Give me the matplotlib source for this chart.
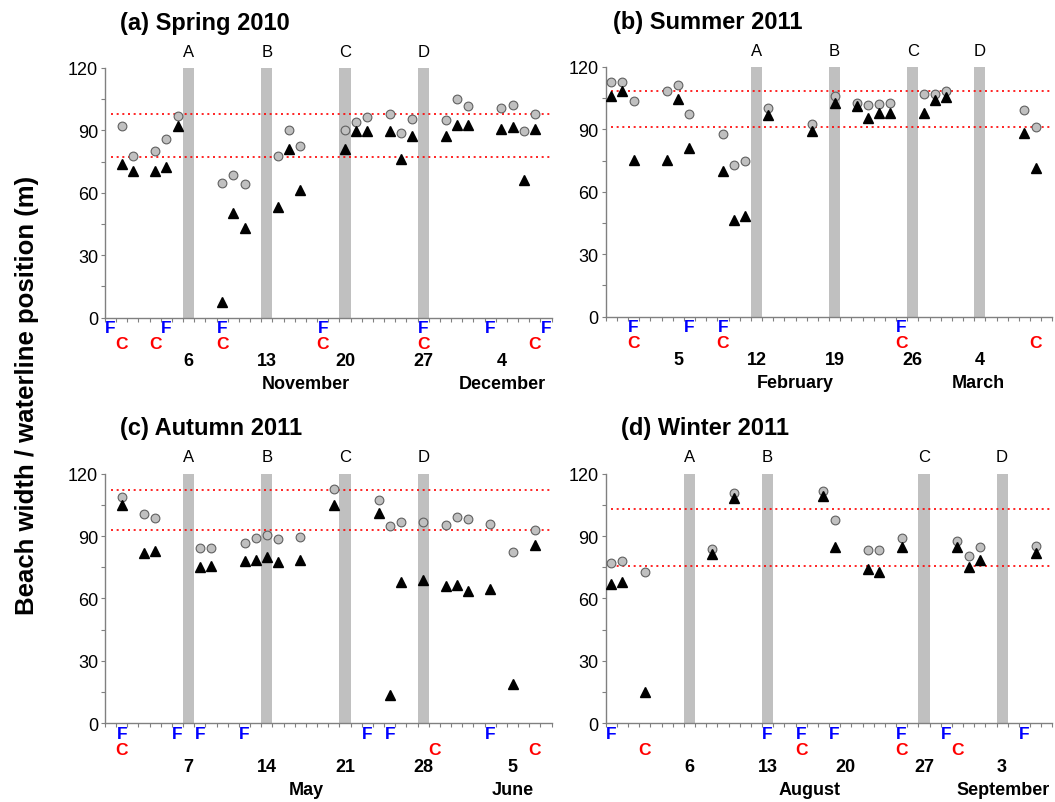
import matplotlib
matplotlib.use("Agg")
import matplotlib.pyplot as plt

plt.rcParams['font.family'] = ['Liberation Sans', 'DejaVu Sans']

##! Survey data.  Days are counted from the first day shown on each panel,
##! so day k is the bin [k, k+1] and its marks sit at k + 0.5.

titles = ['(a) Spring 2010', '(b) Summer 2011', '(c) Autumn 2011', '(d) Winter 2011']
titleShift = [11, 5, 11, 11]
barNames = ['A', 'B', 'C', 'D']

#-- (a) Spring 2010, day 0 = 30 October
daysA  = [1, 2, 4, 5, 6, 10, 11, 12, 15, 16, 17, 21, 22, 23, 25, 26, 27,
          30, 31, 32, 35, 36, 37, 38]
beachA = [92.1, 77.9, 80.3, 85.9, 97.0, 64.9, 68.6, 64.1, 77.9, 90.1, 82.4,
          90.1, 94.2, 96.6, 98.1, 88.6, 95.5, 94.9, 105.1, 101.8, 100.8,
          102.1, 89.9, 97.9]
waterA = [73.7, 70.4, 70.4, 72.3, 92.3, 7.7, 50.5, 43.1, 53.2, 80.9, 61.2,
          80.9, 89.6, 89.6, 89.6, 76.3, 87.2, 87.2, 92.5, 92.5, 90.7, 91.8,
          66.0, 90.7]
limitsA = [98.1, 77.4]
barsA   = [7, 14, 21, 28]
fDaysA  = [0, 5, 10, 19, 28, 34, 39]
cDaysA  = [1, 4, 10, 19, 28, 38]
dateDaysA = [7, 14, 21, 28, 35]
dateLabA  = ['6', '13', '20', '27', '4']
monthsA   = ['November', 'December']
monthPosA = [18.0, 35.6]

#-- (b) Summer 2011, day 0 = 30 January
daysB  = [0, 1, 2, 5, 6, 7, 10, 11, 12, 14, 18, 20, 22, 23, 24, 25, 28, 29,
          30, 37, 38]
beachB = [112.8, 112.8, 103.5, 108.5, 111.5, 97.5, 87.8, 73.0, 74.6, 100.3,
          92.4, 105.9, 102.8, 101.6, 102.2, 102.7, 107.0, 107.0, 108.3, 99.3,
          91.1]
waterB = [105.9, 108.3, 75.4, 75.4, 104.4, 81.2, 69.8, 46.4, 48.6, 97.1,
          89.4, 102.8, 101.1, 95.6, 97.9, 97.9, 97.9, 104.3, 105.4, 88.4, 71.6]
limitsB = [108.5, 91.3]
barsB   = [13, 20, 27, 33]
fDaysB  = [2, 7, 10, 26]
cDaysB  = [2, 10, 26, 38]
dateDaysB = [6, 13, 20, 27, 33]
dateLabB  = ['5', '12', '19', '26', '4']
monthsB   = ['February', 'March']
monthPosB = [17.0, 33.4]

#-- (c) Autumn 2011, day 0 = 30 April
daysC  = [1, 3, 4, 8, 9, 12, 13, 14, 15, 17, 20, 24, 25, 26, 28, 30, 31, 32,
          34, 36, 38]
beachC = [108.6, 100.8, 98.6, 84.0, 84.0, 86.7, 89.0, 90.4, 88.6, 89.6,
          112.5, 107.4, 94.7, 96.6, 96.5, 95.4, 98.9, 98.4, 96.0, 82.2, 93.0]
waterC = [105.0, 81.6, 82.7, 75.0, 75.7, 77.8, 78.6, 79.7, 77.4, 78.6,
          105.1, 101.1, 13.6, 68.0, 68.8, 65.8, 66.4, 63.8, 64.5, 18.7, 85.9]
limitsC = [112.0, 93.0]
barsC   = [7, 14, 21, 28]
fDaysC  = [1, 6, 8, 12, 23, 25, 34]
cDaysC  = [1, 29, 38]
dateDaysC = [7, 14, 21, 28, 36]
dateLabC  = ['7', '14', '21', '28', '5']
monthsC   = ['May', 'June']
monthPosC = [18.0, 36.5]

#-- (d) Winter 2011, day 0 = 30 July
daysD  = [0, 1, 3, 9, 11, 19, 20, 23, 24, 26, 31, 32, 33, 38]
beachD = [76.8, 77.9, 72.6, 83.8, 110.6, 111.4, 97.6, 83.4, 83.2, 89.1,
          87.4, 80.3, 84.8, 85.4]
waterD = [66.9, 67.8, 15.2, 81.4, 108.2, 109.3, 84.8, 74.1, 72.5, 84.8,
          84.5, 75.2, 78.7, 81.8]
limitsD = [103.0, 75.7]
barsD   = [7, 14, 28, 35]
fDaysD  = [0, 14, 17, 20, 26, 30, 37]
cDaysD  = [3, 17, 26, 31]
dateDaysD = [7, 14, 21, 28, 35]
dateLabD  = ['6', '13', '20', '27', '3']
monthsD   = ['August', 'September']
monthPosD = [18.3, 35.6]

nDays = 40
grey = '#808080'


def drawPanel(ax, title, shift, days, beach, water, limits, bars, fDays,
              cDays, dateDays, dateLab, months, monthPos):
    # storm bars, labelled A-D above the axes
    for name, b in zip(barNames, bars):
        ax.axvspan(b, b + 1, ymin=0, ymax=1, color='#c0c0c0', lw=0, zorder=1)
        ax.annotate(name, xy=(b + 0.5, 1), xycoords=('data', 'axes fraction'),
                    xytext=(0, 12), textcoords='offset points',
                    ha='center', va='center', fontsize=12)
    # mean +/- limits
    for y in limits:
        ax.hlines(y, 0.5, nDays, colors='red', lw=1.2,
                  linestyles=(0, (1.2, 2.2)), zorder=2)
    x = [d + 0.5 for d in days]
    ax.plot(x, beach, 'o', ms=6.3, mfc='#c0c0c0', mec='#606060', mew=0.8,
            zorder=3)
    ax.plot(x, water, '^', ms=6.5, color='black', zorder=4)

    ax.set_xlim(0, nDays)
    ax.set_ylim(0, 120)
    ax.set_xticks(range(nDays + 1))
    ax.set_xticklabels([])
    ax.set_yticks(range(0, 121, 30))
    ax.set_yticks(range(15, 120, 30), minor=True)
    ax.tick_params(axis='both', which='both', direction='out', length=3,
                   width=0.8, color=grey, labelsize=13)
    ax.tick_params(axis='y', pad=2)
    for side in ['top', 'right']:
        ax.spines[side].set_visible(False)
    for side in ['left', 'bottom']:
        ax.spines[side].set_color(grey)
        ax.spines[side].set_linewidth(1.0)

    # field (F) and camera (C) survey days, dates and months under the axis
    def under(text, xpos, dy, color='black', size=13):
        ax.annotate(text, xy=(xpos, 0), xycoords=('data', 'axes fraction'),
                    xytext=(0, dy), textcoords='offset points',
                    ha='center', va='center', fontsize=size,
                    fontweight='bold', color=color, annotation_clip=False)

    for d in fDays:
        under('F', d + 0.5, -7.0, 'blue', 12.5)
    for d in cDays:
        under('C', d + 0.5, -18.5, 'red', 12.5)
    for d, lab in zip(dateDays, dateLab):
        under(lab, d + 0.5, -31)
    for m, p in zip(months, monthPos):
        under(m, p, -47.5)

    ax.annotate(title, xy=(0, 1), xycoords='axes fraction',
                xytext=(shift, 33), textcoords='offset points',
                ha='left', va='center', fontsize=17, fontweight='bold')


fig = plt.figure(figsize=(10.55, 8.03), dpi=100)
w, h = 0.4234, 0.311
axA = fig.add_axes([0.0995, 0.6031, w, h])
axB = fig.add_axes([0.5741, 0.6044, w, h])
axC = fig.add_axes([0.0995, 0.0980, w, h])
axD = fig.add_axes([0.5741, 0.0980, w, h])

drawPanel(axA, titles[0], titleShift[0], daysA, beachA, waterA, limitsA,
          barsA, fDaysA, cDaysA, dateDaysA, dateLabA, monthsA, monthPosA)
drawPanel(axB, titles[1], titleShift[1], daysB, beachB, waterB, limitsB,
          barsB, fDaysB, cDaysB, dateDaysB, dateLabB, monthsB, monthPosB)
drawPanel(axC, titles[2], titleShift[2], daysC, beachC, waterC, limitsC,
          barsC, fDaysC, cDaysC, dateDaysC, dateLabC, monthsC, monthPosC)
drawPanel(axD, titles[3], titleShift[3], daysD, beachD, waterD, limitsD,
          barsD, fDaysD, cDaysD, dateDaysD, dateLabD, monthsD, monthPosD)

fig.text(0.026, 0.508, 'Beach width / waterline position (m)', rotation=90,
         ha='center', va='center', fontsize=18.5, fontweight='bold')

fig.savefig('out.png', dpi=100)
